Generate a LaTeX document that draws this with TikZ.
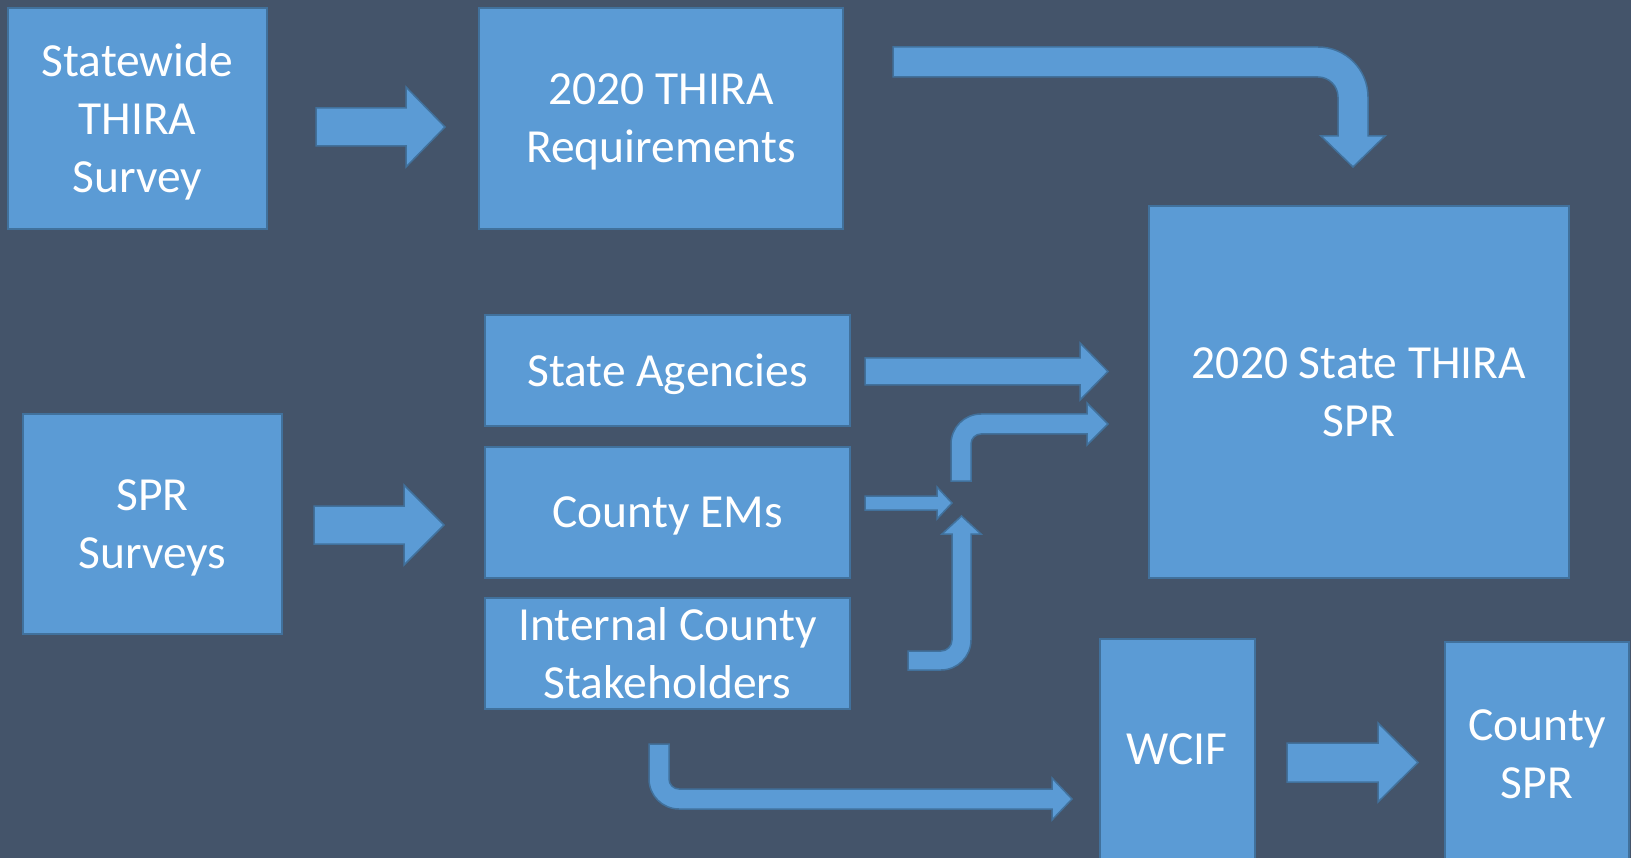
\documentclass[tikz,border=0pt]{standalone}
\usepackage{fontspec}
\setmainfont{Carlito}
\definecolor{fond}{HTML}{44546A}
\definecolor{bleu}{HTML}{5B9BD5}
\definecolor{bord}{HTML}{41719C}

\begin{document}
\begin{tikzpicture}[x=1pt, y=-1pt]
	\tikzset{bloc/.style={rectangle, draw=bord, fill=bleu, line width=2pt, text=white, align=center, inner sep=0pt, text depth=-3pt, font=\fontsize{47.5}{58}\selectfont}, fleche/.style={draw=bord, fill=bleu, line width=1.5pt, line join=miter}};

	\useasboundingbox (0,0) rectangle (1631,858);
	\fill[fond] (0,0) rectangle (1631,858);

	\node[bloc, minimum width=259pt, minimum height=221pt] (survey)   at ( 137.5, 118.5) {Statewide\\THIRA\\Survey};
	\node[bloc, minimum width=364pt, minimum height=221pt] (req)      at ( 661,   118.5) {2020 THIRA\\Requirements};
	\node[bloc, minimum width=420pt, minimum height=372pt] (spr)      at (1359,   392  ) {2020 State THIRA\\SPR};
	\node[bloc, minimum width=365pt, minimum height=111pt] (agences)  at ( 667.5, 370.5) {State Agencies};
	\node[bloc, minimum width=365pt, minimum height=131pt] (ems)      at ( 667.5, 512.5) {County EMs};
	\node[bloc, minimum width=365pt, minimum height=111pt] (interne)  at ( 667.5, 653.5) {Internal County\\Stakeholders};
	\node[bloc, minimum width=259pt, minimum height=220pt] (enquetes) at ( 152.5, 524  ) {SPR\\Surveys};
	\node[bloc, minimum width=155pt, minimum height=220pt] (wcif)     at (1177,   749  ) {WCIF};
	\node[bloc, minimum width=184pt, minimum height=224pt] (comte)    at (1537,   754  ) {County\\SPR};

	% fleches droites
	\draw[fleche] (316,108) -- (406,108) -- (406,87) -- (445,127) -- (406,167) -- (406,146) -- (316,146) -- cycle;
	\draw[fleche] (314,506) -- (404,506) -- (404,485) -- (444,525) -- (404,565) -- (404,544) -- (314,544) -- cycle;
	\draw[fleche] (865,358) -- (1080,358) -- (1080,343) -- (1108,371.5) -- (1080,400) -- (1080,385) -- (865,385) -- cycle;
	\draw[fleche] (865,496) -- (937,496) -- (937,487) -- (952,503) -- (937,519) -- (937,510) -- (865,510) -- cycle;
	\draw[fleche] (1287,743) -- (1378,743) -- (1378,723) -- (1418,762.5) -- (1378,802) -- (1378,782) -- (1287,782) -- cycle;

	% fleches coudees
	\draw[fleche] (893,47) -- (1318,47) arc[start angle=-90, end angle=0, radius=50] -- (1368,136) -- (1385,136) -- (1353,167) -- (1321,136) -- (1338,136) -- (1338,97) arc[start angle=0, end angle=-90, radius=20] -- (893,77) -- cycle;
	\draw[fleche] (951,481) -- (951,444) arc[start angle=180, end angle=270, radius=30] -- (1087,414) -- (1087,403) -- (1108,424) -- (1087,445) -- (1087,434) -- (981,434) arc[start angle=270, end angle=180, radius=10] -- (971,481) -- cycle;
	\draw[fleche] (908,651) -- (941,651) arc[start angle=90, end angle=0, radius=11] -- (952,534) -- (942,534) -- (961.5,516) -- (981,534) -- (971,534) -- (971,640) arc[start angle=0, end angle=90, radius=30] -- (908,670) -- cycle;
	\draw[fleche] (649,744) -- (669,744) -- (669,779) arc[start angle=180, end angle=90, radius=10] -- (1052,789) -- (1052,778) -- (1072,799) -- (1052,820) -- (1052,809) -- (679,809) arc[start angle=90, end angle=180, radius=30] -- cycle;

\end{tikzpicture}
\end{document}
